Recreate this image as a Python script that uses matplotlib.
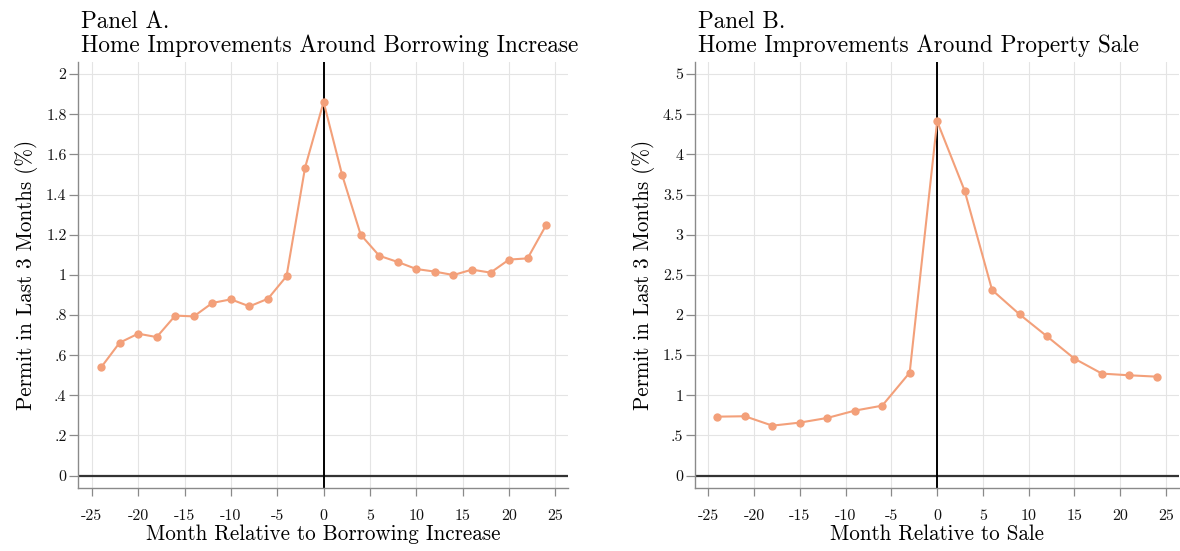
import matplotlib
matplotlib.use("Agg")
import matplotlib.pyplot as plt
import numpy as np

# Panel A: home improvements around borrowing increase
months_a = list(range(-24, 25, 2))
permit_a = [0.539, 0.662, 0.707, 0.690, 0.797, 0.793, 0.860, 0.878, 0.843,
            0.881, 0.993, 1.534, 1.861, 1.497, 1.200, 1.095, 1.064, 1.029,
            1.016, 0.999, 1.026, 1.011, 1.076, 1.082, 1.248]

# Panel B: home improvements around property sale
months_b = list(range(-24, 25, 3))
permit_b = [0.734, 0.739, 0.622, 0.660, 0.718, 0.809, 0.871, 1.282, 4.411,
            3.548, 2.311, 2.008, 1.734, 1.456, 1.270, 1.249, 1.232]

xticks = [-25, -20, -15, -10, -5, 0, 5, 10, 15, 20, 25]
yticks_a = [0, 0.2, 0.4, 0.6, 0.8, 1.0, 1.2, 1.4, 1.6, 1.8, 2.0]
ylabels_a = ["0", ".2", ".4", ".6", ".8", "1", "1.2", "1.4", "1.6", "1.8", "2"]
yticks_b = [0, 0.5, 1, 1.5, 2, 2.5, 3, 3.5, 4, 4.5, 5]
ylabels_b = ["0", ".5", "1", "1.5", "2", "2.5", "3", "3.5", "4", "4.5", "5"]

plt.rcParams["font.family"] = ["cmr10", "DejaVu Serif"]
plt.rcParams["mathtext.fontset"] = "cm"
plt.rcParams["axes.formatter.use_mathtext"] = True

LINE_COLOR = "#F3A07A"
SPINE_COLOR = "#8a8a8a"

fig = plt.figure(figsize=(11.8, 5.51), dpi=100)
ax_a = fig.add_axes([0.0664, 0.1138, 0.4153, 0.7737])
ax_b = fig.add_axes([0.589, 0.1138, 0.410, 0.7737])


def style_panel(ax, x, y, yticks, ylabels, ylim, title, xlabel):
    ax.set_xlim(-26.45, 26.4)
    ax.set_ylim(*ylim)
    ax.set_xticks(xticks)
    ax.set_xticklabels([str(t) for t in xticks])
    ax.set_yticks(yticks)
    ax.set_yticklabels(ylabels)
    ax.grid(True, color="#e4e4e4", linewidth=0.8)
    ax.set_axisbelow(True)
    for side in ["top", "right"]:
        ax.spines[side].set_visible(False)
    for side in ["left", "bottom"]:
        ax.spines[side].set_color(SPINE_COLOR)
        ax.spines[side].set_linewidth(1.0)
    ax.tick_params(axis="both", colors=SPINE_COLOR, labelcolor="#111111",
                   labelsize=11.5, width=0.9, direction="out")
    ax.tick_params(axis="x", length=6, pad=9)
    ax.tick_params(axis="y", length=6.5, pad=2)
    ax.axhline(0, color="#333333", linewidth=1.6, zorder=2)
    ax.axvline(0, color="black", linewidth=1.4, zorder=2)
    ax.plot(x, y, color=LINE_COLOR, linewidth=1.5, marker="o",
            markersize=6, markeredgewidth=0, zorder=3)
    ax.set_xlabel(xlabel, fontsize=15.2, labelpad=1)
    ax.set_ylabel("Permit in Last 3 Months (%)", fontsize=15.2, labelpad=6)
    ax.set_title(title, loc="left", fontsize=16.7, linespacing=1.1, pad=7,
                 x=0.006)


style_panel(ax_a, months_a, permit_a, yticks_a, ylabels_a, (-0.063, 2.06),
            "Panel A.\nHome Improvements Around Borrowing Increase",
            "Month Relative to Borrowing Increase")
style_panel(ax_b, months_b, permit_b, yticks_b, ylabels_b, (-0.158, 5.15),
            "Panel B.\nHome Improvements Around Property Sale",
            "Month Relative to Sale")

fig.savefig("out.png", dpi=100)
